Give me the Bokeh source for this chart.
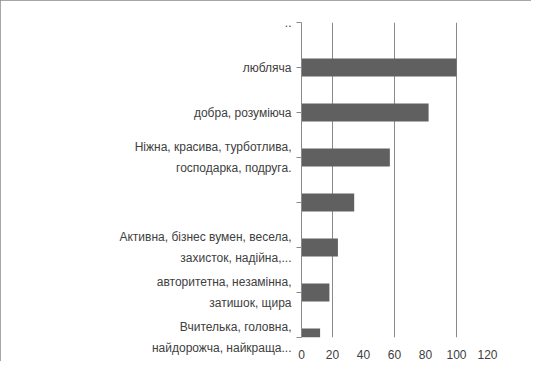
from bokeh.plotting import figure
from bokeh.models import FixedTicker, Range1d, ColumnDataSource
from bokeh.embed import file_html
from bokeh.resources import INLINE

# categories top to bottom
categories = [
    "..",
    "любляча",
    "добра, розуміюча",
    "Ніжна, красива, турботлива,\nгосподарка, подруга.",
    "",
    "Активна, бізнес вумен, весела,\nзахисток, надійна,...",
    "авторитетна, незамінна,\nзатишок, щира",
    "Вчителька, головна,\nнайдорожча, найкраща...",
]
values = [0, 100, 82, 57, 34, 23.5, 18, 12]
x_ticks = [0, 20, 40, 60, 80, 100, 120]
grid_ticks = [20, 60, 100, 120]

n = len(categories)
pos = [n - 1 - i for i in range(n)]
src = ColumnDataSource(dict(y=pos, right=values))

p = figure(width=531, height=361, output_backend="svg", toolbar_location=None,
           x_range=Range1d(0, 120), y_range=Range1d(0, n - 1),
           min_border_left=301, min_border_right=44, min_border_top=22,
           min_border_bottom=20)
p.outline_line_color = None
p.background_fill_color = "white"
p.border_fill_color = "white"
p.styles = {"outline": "1px solid #8a8a8a", "outline-offset": "-1px"}

p.hbar(y="y", left=0, right="right", height=0.4, source=src,
       fill_color="#606060", line_color=None)

p.ygrid.visible = False
p.xgrid.ticker = FixedTicker(ticks=grid_ticks)
p.xgrid.grid_line_color = "#8a8a8a"
p.xgrid.grid_line_width = 1

p.xaxis.ticker = FixedTicker(ticks=x_ticks)
p.xaxis.axis_line_color = None
p.xaxis.major_tick_line_color = None
p.xaxis.minor_tick_line_color = None
p.xaxis.major_label_standoff = 6
p.xaxis.major_label_text_font = "Liberation Sans"
p.xaxis.major_label_text_font_size = "12px"
p.xaxis.major_label_text_color = "#404040"

p.yaxis.ticker = FixedTicker(ticks=pos)
p.yaxis.major_label_overrides = {pp: c for pp, c in zip(pos, categories)}
p.yaxis.axis_line_color = "#8a8a8a"
p.yaxis.major_tick_line_color = "#8a8a8a"
p.yaxis.major_tick_out = 5
p.yaxis.major_tick_in = 0
p.yaxis.minor_tick_line_color = None
p.yaxis.major_label_standoff = 5
p.yaxis.major_label_text_font = "Liberation Sans"
p.yaxis.major_label_text_font_size = "12px"
p.yaxis.major_label_text_color = "#404040"
p.yaxis.major_label_text_line_height = 1.45
p.yaxis.major_label_text_align = "center"

open("out.html", "w").write(file_html(p, INLINE))
